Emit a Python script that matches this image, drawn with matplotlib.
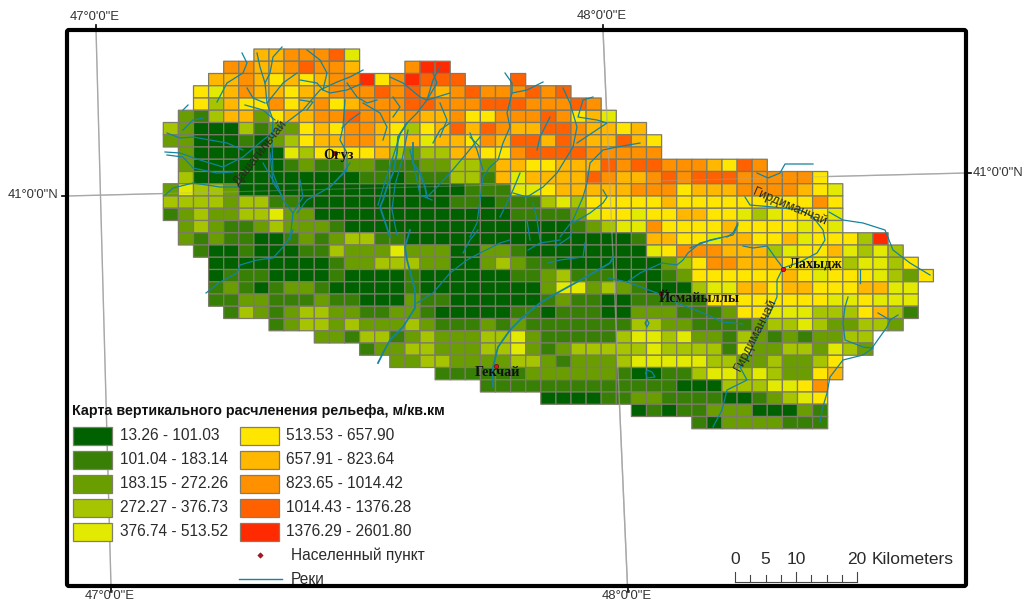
import numpy as np
import matplotlib
matplotlib.use('Agg')
import matplotlib.pyplot as plt
from matplotlib.colors import ListedColormap
from matplotlib.patches import FancyBboxPatch, Rectangle

plt.rcParams['font.family'] = ['Liberation Sans', 'DejaVu Sans']

# class of every grid cell, row by row from the north, '.' = no data, 'a' = top class
row_start = [6, 4, 3, 2, 2, 1, 0, 0, 1, 1, 1, 0, 0, 0, 1, 1, 2, 3, 3, 3, 3, 4, 7, 10, 13, 15, 18, 21, 25, 31, 35]
row_cells = [
    "7788895",
    "887789887...8aa",
    "7787676788a68a999...9",
    "6578776778889898789888989",
    "647668678678889988899988898",
    "32477367788988787786688898675",
    "43111423367688764679798779987767",
    "331112134677887575776879979877976",
    "31111115466667434477668999988888",
    "3111111" + "2322332223344" + "3776677798998887698",
    "4" + "1" * 11 + "22122244" + "27577779877898999888886",
    "35443" + "1" * 15 + "222" + "5567777788867778888765",
    "444434422" + "1" * 10 + "22" + "1222454" + "66666" + "7" + "666666666" + "86",
    "2343344533" + "1" * 13 + "2222" + "356656677665456665",
    "34322343332" + "1" * 15 + "234558666676666565",
    "323221123234422" + "1" * 15 + "2776657766756664a",
    "2112111224333533311332" + "1" * 8 + "56888777456675454",
    "1" * 8 + "233444331134322" + "1" * 7 + "34688777665645546",
    "12221111" + "2" + "1111" + "2" + "111111" + "223422211123" + "666666" + "7656665436",
    "23212332" + "11111" + "2" + "1" * 8 + "3553432" + "111" + "455776776667755",
    "2233222322" + "111" + "322" + "111111" + "232211" + "22222" + "66666666" + "556555",
    "24323443322332" + "11111" + "22" + "1" + "222" + "11" + "333" + "222" + "3" + "66" + "555" + "444" + "6742",
    "23443433343222" + "323" + "2222222" + "4433" + "2222" + "3445433443",
    "33244234333" + "4453" + "22222" + "45545" + "332432323344",
    "23344333" + "445323" + "44444" + "5" + "4444" + "2533443543",
    "334433" + "33443" + "2333" + "455555" + "4433" + "43346",
    "222222" + "333333" + "21122" + "4554543367",
    "2" * 13 + "111" + "4445568",
    "1111" + "22" + "33" + "2222" + "11" + "23456",
    "1212233311132",
    "213333222",
]
class_colors = ['#006100', '#387f06', '#6a9e00', '#a6c400', '#e1ea00',
                '#ffe600', '#ffb700', '#ff9000', '#ff6100', '#ff2a00']
class_labels = ['13.26 - 101.03', '101.04 - 183.14', '183.15 - 272.26', '272.27 - 376.73', '376.74 - 513.52',
                '513.53 - 657.90', '657.91 - 823.64', '823.65 - 1014.42', '1014.43 - 1376.28', '1376.29 - 2601.80']

rivers_thin = [
    [(167,133),(180,138),(193,137),(210,140),(227,143),(243,150)],
    [(188,105),(183,110)],
    [(183,130),(193,120),(203,118)],
    [(167,155),(183,157),(193,168),(217,173),(233,172)],
    [(165,152),(180,153),(200,160),(223,167),(243,157),(263,140),(283,125),(303,110),(320,90),(337,82),(350,77),(363,70)],
    [(165,195),(173,188),(193,183),(220,187),(240,187)],
    [(217,102),(227,83),(243,73),(247,63),(242,53)],
    [(257,53),(260,67),(265,83),(267,103),(273,120),(272,140),(273,173),(283,200),(293,213),(290,240)],
    [(282,47),(273,57),(270,73),(265,83)],
    [(297,73),(283,83),(267,103)],
    [(245,105),(263,110),(275,120)],
    [(247,88),(253,98),(265,103)],
    [(300,100),(313,102),(307,110)],
    [(307,50),(320,60),(327,73),(323,90)],
    [(300,80),(317,83),(323,90),(330,93),(347,90),(363,83)],
    [(345,100),(343,127),(340,140),(347,153),(347,170),(330,187),(307,200),(297,213)],
    [(360,113),(350,120),(342,128)],
    [(363,103),(380,113),(387,127),(383,140)],
    [(347,83),(357,97),(367,103),(377,100)],
    [(390,77),(403,83),(420,97),(427,100),(437,97),(450,93)],
    [(433,73),(437,83),(427,100)],
    [(440,103),(447,120),(440,137)],
    [(393,97),(400,107),(393,117)],
    [(450,123),(440,130),(433,143)],
    [(470,137),(480,147)],
    [(270,153),(273,183),(283,197)],
    [(263,163),(277,187)],
    [(300,180),(303,197),(293,213)],
    [(330,187),(343,173),(350,163)],
    [(407,123),(417,113),(427,100),(433,80),(440,67)],
    [(480,137),(467,153),(450,173),(437,187),(427,197)],
    [(400,135),(392,160),(384,185),(378,205)],
    [(408,130),(402,160),(395,185),(392,210),(397,235)],
    [(410,150),(416,175),(420,195),(432,200)],
    [(505,73),(512,83),(512,93),(507,113),(510,127),(503,143),(498,160),(490,167),(483,177),(480,200),(477,223),(470,237)],
    [(543,82),(527,90),(512,93)],
    [(563,88),(570,103),(577,127),(573,147),(557,173),(543,187),(527,197),(513,193)],
    [(550,117),(540,137),(537,150)],
    [(593,97),(583,100),(578,117),(597,120),(607,123),(577,143)],
    [(640,143),(617,147),(603,150),(590,163),(587,183),(583,197),(573,220),(560,237)],
    [(603,190),(607,197),(603,203),(590,213),(573,223)],
    [(520,173),(513,190),(507,203),(500,217)],
    [(533,203),(537,220),(540,240)],
    [(527,220),(530,240)],
    [(470,133),(477,150),(483,170)],
    [(738,223),(733,233),(727,237)],
    [(608,278),(627,282),(657,293),(677,303),(703,313),(723,322),(743,324)],
    [(627,282),(640,273),(662,263),(677,265),(683,260),(688,253),(700,243),(720,238)],
    [(690,248),(710,240),(733,235),(738,225)],
    [(646,373),(647,370),(652,372),(655,377),(647,378),(646,373)],
    [(647,320),(649,323),(647,327),(645,323),(647,320)],
    [(206,293),(220,282),(237,273),(240,265),(257,260),(273,258),(283,247),(290,237),(293,230)],
    [(417,303),(433,293),(450,273),(467,260),(480,253),(500,243),(510,240)],
    [(463,253),(470,240),(478,230)],
    [(548,263),(560,260),(583,257),(585,243)],
    [(528,250),(540,243),(560,240)],
    [(555,247),(570,237),(572,230)],
    [(813,164),(785,164),(780,173),(768,178),(757,173)],
    [(745,197),(750,205),(773,207),(800,210),(813,217),(823,230),(825,240),(817,253),(800,262),(783,268),
     (777,280),(777,297),(770,313),(757,337),(747,360),(740,367),(747,380),(727,390),(722,410),(713,427)],
    [(829,212),(843,220),(863,223),(885,230),(893,250),(910,263),(930,275)],
    [(743,246),(753,248),(767,246),(777,260),(783,268)],
    [(860,270),(860,283)],
    [(848,297),(845,307),(843,323),(845,340),(863,347),(872,348),(887,327),(890,320),(878,313)],
    [(890,320),(898,315)],
    [(873,348),(863,355),(843,360),(830,377),(827,393),(822,410),(820,422)],
]
rivers_thick = [
    [(407,123),(398,137),(397,153),(393,173),(387,187),(383,200),(380,207),(390,237)],
    [(413,143),(413,163),(420,173),(425,187),(427,197)],
    [(493,387),(493,367),(498,347),(510,330),(523,317),(540,303),(557,293),(577,282),(593,273),(610,263),(613,257)],
    [(378,363),(383,353),(390,340),(403,327),(415,308),(415,290),(407,260),(405,247),(410,230)],
]

# towns: name, dot x, dot y, label x, label y
town_names = ['Огуз', 'Лахыдж', 'Йсмайыллы', 'Гекчай']
town_dots = [(335, 153), (783, 269), (661, 293), (496, 366)]
town_labels = [(338, 156), (816, 264), (699, 299), (497, 373)]

# grid geometry in picture pixels
col_left, col_w = 163.3, 15.1
row_top, row_h = 49.0, 12.25
n_cols, n_rows = 51, 31

cells = np.full((n_rows, n_cols), np.nan)
for r, (start, text) in enumerate(zip(row_start, row_cells)):
    for k, ch in enumerate(text):
        if ch == '.':
            continue
        cells[r, start + k] = 9 if ch == 'a' else int(ch) - 1

fig = plt.figure(figsize=(10.22, 6.02), dpi=100)
ax = fig.add_axes([0, 0, 1, 1])
ax.set_xlim(0, 1022)
ax.set_ylim(602, 0)
ax.set_axis_off()

graticule = '#a8a8a8'
ax.plot([96, 111], [29, 586], color=graticule, lw=1.0, zorder=1)
ax.plot([603, 627.5], [30, 586], color=graticule, lw=1.0, zorder=1)
ax.plot([67, 966], [196, 173], color=graticule, lw=1.0, zorder=1)

x_edges = col_left + col_w * np.arange(n_cols + 1)
y_edges = row_top + row_h * np.arange(n_rows + 1)
ax.pcolor(x_edges, y_edges, np.ma.masked_invalid(cells), cmap=ListedColormap(class_colors), vmin=-0.5, vmax=9.5,
          edgecolors='#7b7b68', linewidth=0.9, zorder=2)

ax.plot([96, 111], [29, 586], color=graticule, lw=0.8, alpha=0.35, zorder=3)
ax.plot([603, 627.5], [30, 586], color=graticule, lw=1.0, alpha=0.6, zorder=3)
ax.plot([67, 966], [196, 173], color=graticule, lw=0.8, alpha=0.35, zorder=3)

river_color = '#14839f'
for pts in rivers_thin:
    xy = np.array(pts)
    ax.plot(xy[:, 0], xy[:, 1], color=river_color, lw=0.9, solid_joinstyle='round', zorder=4)
for pts in rivers_thick:
    xy = np.array(pts)
    ax.plot(xy[:, 0], xy[:, 1], color=river_color, lw=1.3, solid_joinstyle='round', zorder=4)

for name, dot, lab in zip(town_names, town_dots, town_labels):
    ax.plot(dot[0], dot[1], 'o', color='#e0102a', ms=3.2, mec='#600000', mew=0.4, zorder=5)
    ax.text(lab[0], lab[1], name, family=['Liberation Serif'], weight='bold', fontsize=10.3,
            ha='center', va='center', color='#111111', zorder=6)

for name, x, y, rot in [('Дашагильчай', 260, 153, 52), ('Гирдиманчай', 790, 207, -23), ('Гирдиманчай', 755, 335, 63)]:
    ax.text(x, y, name, fontsize=9.3, rotation=rot, rotation_mode='anchor', ha='center', va='center',
            color='#2a2a20', zorder=6)

# frame and outside ticks
ax.add_patch(FancyBboxPatch((67, 30), 899, 556, boxstyle='round,pad=0,rounding_size=2', fc='none', ec='black',
                            lw=3.0, zorder=8))
for x0, y0, x1, y1 in [(96, 25, 96, 30), (603, 25, 603, 30), (111, 586, 111, 592), (627.5, 586, 627.5, 592),
                       (62, 196, 67, 196), (966, 173, 971, 173)]:
    ax.plot([x0, x1], [y0, y1], color='black', lw=1.2, zorder=8, clip_on=False)

grid_font = dict(fontsize=9.4, color='#333333', zorder=9)
ax.text(95, 17, '47°0\'0"E', ha='center', va='center', **grid_font)
ax.text(602, 16, '48°0\'0"E', ha='center', va='center', **grid_font)
ax.text(58, 195, '41°0\'0"N', ha='right', va='center', **grid_font)
ax.text(973, 173, '41°0\'0"N', ha='left', va='center', **grid_font)
ax.text(110, 596, '47°0\'0"E', ha='center', va='center', **grid_font)
ax.text(627, 596, '48°0\'0"E', ha='center', va='center', **grid_font)

# legend
ax.text(72, 411, 'Карта вертикального расчленения рельефа, м/кв.км', weight='bold', fontsize=10.3,
        ha='left', va='center', color='#111111', zorder=9)
legend_y = [427, 451, 475, 499, 523]
for i in range(10):
    px, tx = (72.5, 120) if i < 5 else (239.5, 286)
    y = legend_y[i % 5]
    ax.add_patch(Rectangle((px, y), 39, 18, fc=class_colors[i], ec='#807f6c', lw=0.9, zorder=9))
    ax.text(tx, y + 8.5, class_labels[i], fontsize=11.2, ha='left', va='center', color='#2b2b2b', zorder=9)

ax.plot(260, 555, 'D', color='#b01020', ms=2.8, mec='#701010', mew=0.3, zorder=9)
ax.text(291, 555, 'Населенный пункт', fontsize=11.2, ha='left', va='center', color='#2b2b2b', zorder=9)
ax.plot([239, 282], [579, 579], color=river_color, lw=1.0, zorder=9)
ax.text(291, 579, 'Реки', fontsize=11.2, ha='left', va='center', color='#2b2b2b', zorder=9)

# scale bar, km ticks
km_ticks = np.arange(0, 21, 2.5)
km_to_px = (857 - 735) / 20.0
ax.plot([735, 857], [582, 582], color='#444444', lw=0.8, zorder=9)
for km in km_ticks:
    top = 572 if km % 10 == 0 else 575
    ax.plot([735 + km * km_to_px] * 2, [top, 582], color='#444444', lw=0.8, zorder=9)
for km in [0, 5, 10, 20]:
    ax.text(735 + km * km_to_px, 559, str(km), fontsize=12.5, ha='center', va='center', color='#2b2b2b', zorder=9)
ax.text(872, 559, 'Kilometers', fontsize=12.5, ha='left', va='center', color='#2b2b2b', zorder=9)

fig.savefig('out.png', dpi=100, facecolor='white')
